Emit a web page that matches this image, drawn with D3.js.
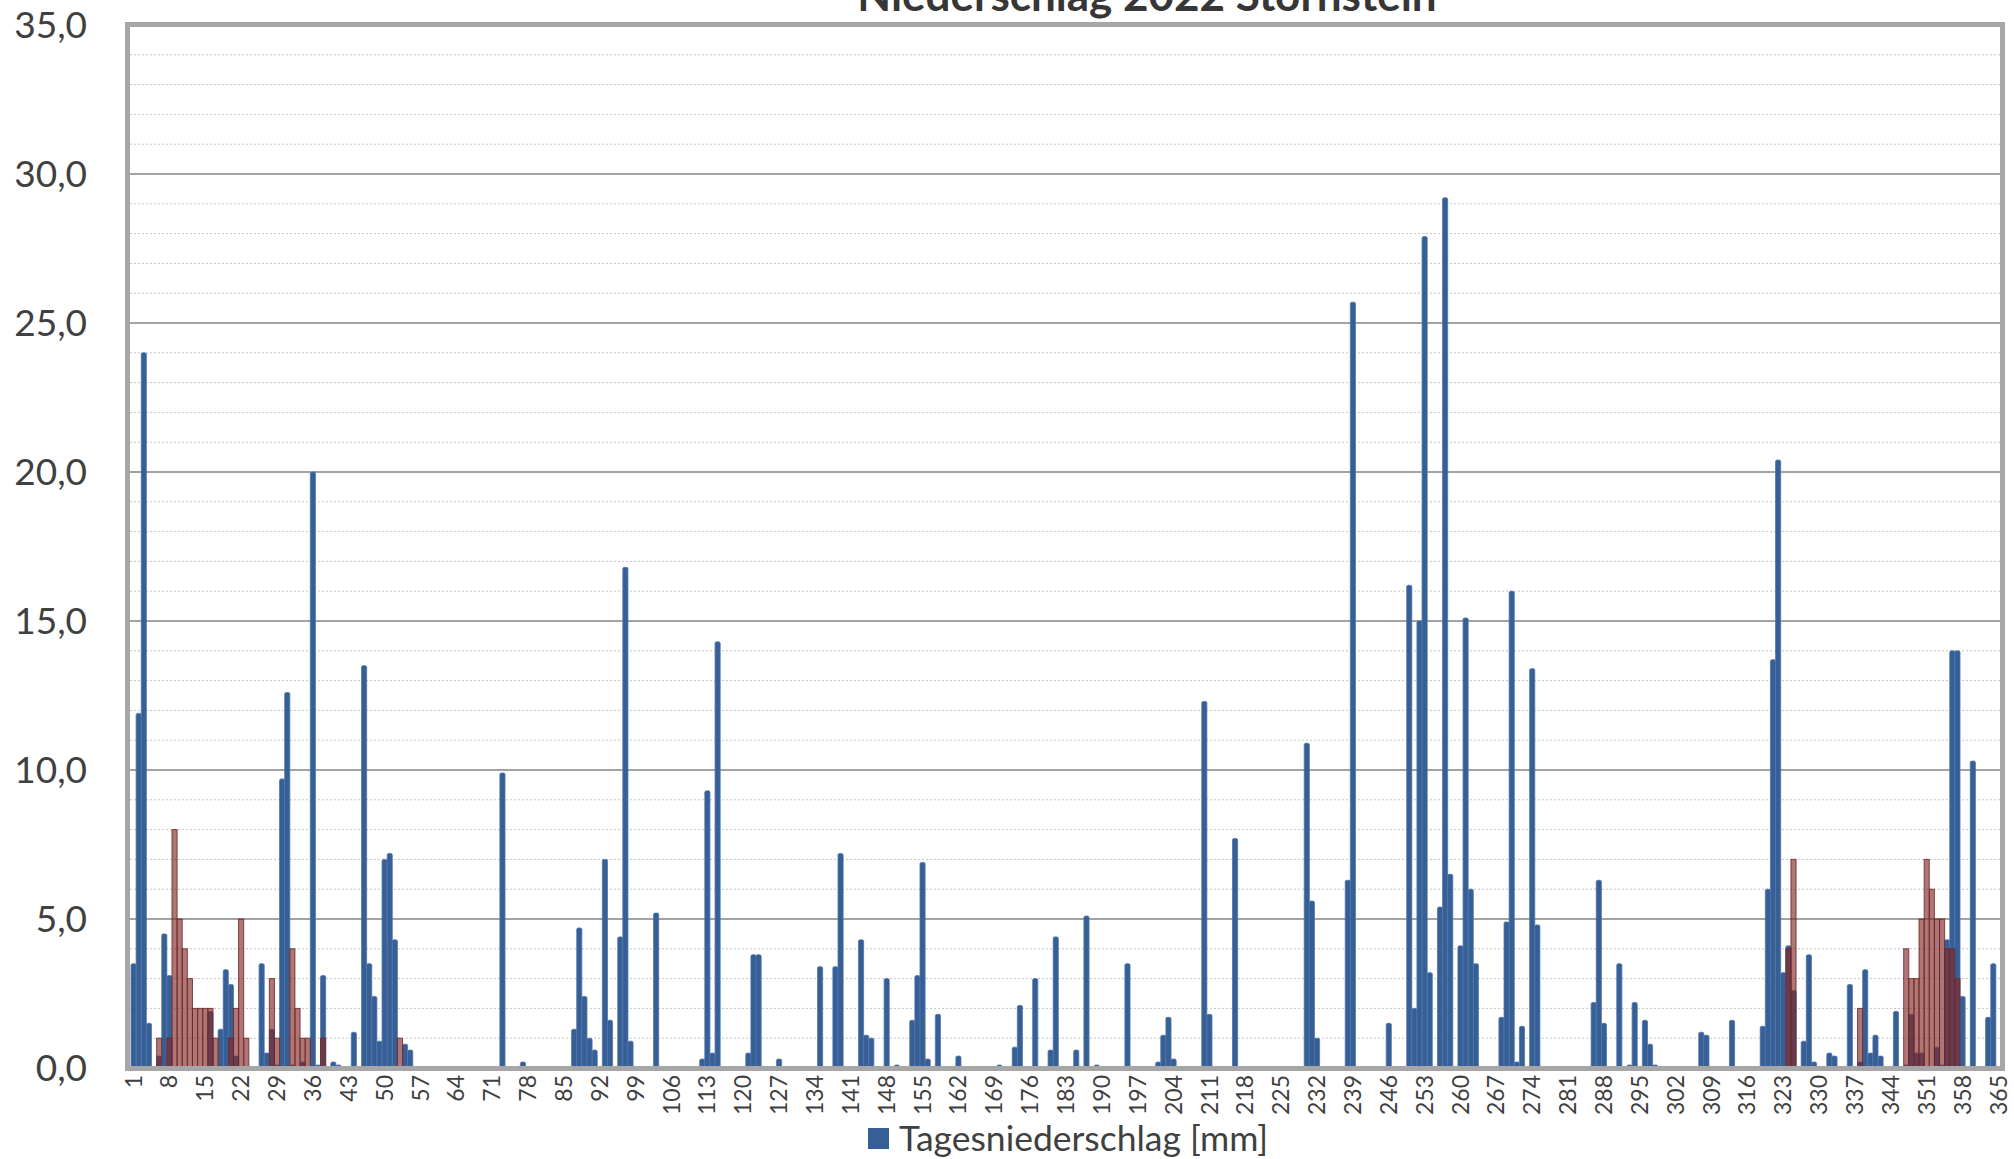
<!DOCTYPE html>
<html><head><meta charset="utf-8">
<script src="https://cdn.jsdelivr.net/npm/d3@7/dist/d3.min.js"></script>
<style>html,body{margin:0;padding:0;background:#fff;overflow:hidden}</style>
</head><body>
<script>
// ---- Data ----
const title = "Niederschlag 2022 Stornstein";
const legendLabel = "Tagesniederschlag [mm]";
const days = d3.range(1, 366);               // categories 1..365
const xTickDays = d3.range(1, 366, 7);       // 1, 8, 15, ... 365
const yTicks = [0, 5, 10, 15, 20, 25, 30, 35];

// daily precipitation (days with rain only)
const rainDay = [1,2,3,4,6,7,8,16,18,19,20,21,26,27,28,29,30,31,32,34,36,37,38,40,41,44,46,47,48,49,50,51,52,54,55,
  73,77,87,88,89,90,91,93,94,96,97,98,103,112,113,114,115,121,122,123,127,135,138,139,143,144,145,148,150,153,154,155,156,158,162,
  170,173,174,177,180,181,185,187,189,195,201,202,203,204,210,211,216,230,231,232,238,239,246,250,251,252,253,254,256,257,258,
  260,261,262,263,268,269,270,271,272,274,275,286,287,288,291,293,294,296,297,298,307,308,313,319,320,321,322,323,324,325,327,328,329,
  332,333,336,338,339,340,341,342,345,347,348,349,350,353,354,355,356,357,358,360,363,364];
const rainMM = [3.5,11.9,24.0,1.5,0.4,4.5,3.1,1.9,1.3,3.3,2.8,0.4,3.5,0.5,1.3,0.1,9.7,12.6,0.1,0.2,20.0,0.1,3.1,0.2,0.1,1.2,13.5,3.5,2.4,0.9,7.0,7.2,4.3,0.8,0.6,
  9.9,0.2,1.3,4.7,2.4,1.0,0.6,7.0,1.6,4.4,16.8,0.9,5.2,0.3,9.3,0.5,14.3,0.5,3.8,3.8,0.3,3.4,3.4,7.2,4.3,1.1,1.0,3.0,0.1,1.6,3.1,6.9,0.3,1.8,0.4,
  0.1,0.7,2.1,3.0,0.6,4.4,0.6,5.1,0.1,3.5,0.2,1.1,1.7,0.3,12.3,1.8,7.7,10.9,5.6,1.0,6.3,25.7,1.5,16.2,2.0,15.0,27.9,3.2,5.4,29.2,6.5,
  4.1,15.1,6.0,3.5,1.7,4.9,16.0,0.2,1.4,13.4,4.8,2.2,6.3,1.5,3.5,0.1,2.2,1.6,0.8,0.1,1.2,1.1,1.6,1.4,6.0,13.7,20.4,3.2,4.1,2.6,0.9,3.8,0.2,
  0.5,0.4,2.8,0.2,3.3,0.5,1.1,0.4,1.9,0.1,1.8,0.5,0.5,0.7,0.1,4.3,14.0,14.0,2.4,10.3,1.7,3.5];

// second (translucent brown) series
const snowDay = [6,8,9,10,11,12,13,14,15,16,17,20,21,22,23,28,29,32,33,34,35,38,53,324,325,338,347,348,349,350,351,352,353,354,355,356,357];
const snowVal = [1,1,8,5,4,3,2,2,2,2,1,1,2,5,1,3,1,4,2,1,1,1,1,4,7,2,4,3,3,5,7,6,5,5,4,4,3];

// ---- Layout ----
const W = 2014, H = 1159;
const plotL = 130, plotR = 2001, plotT = 25, plotB = 1068;

const svg = d3.select("body").append("svg").attr("width", W).attr("height", H)
  .style("font-family", "Lato, 'Open Sans', sans-serif");

const x = d3.scaleBand().domain(days).range([plotL + 1, plotR]).padding(0);
const y = d3.scaleLinear().domain([0, 35]).range([plotB, plotT]);

// minor grid (every 1)
const g = svg.append("g");
g.selectAll("line.minor").data(d3.range(1, 35).filter(v => v % 5 !== 0)).join("line")
  .attr("x1", plotL).attr("x2", plotR).attr("y1", d => y(d)).attr("y2", d => y(d))
  .attr("stroke", "#c4c4c4").attr("stroke-width", 1).attr("stroke-dasharray", "2,2");
// major grid
g.selectAll("line.major").data(yTicks.filter(v => v > 0 && v < 35)).join("line")
  .attr("x1", plotL).attr("x2", plotR).attr("y1", d => y(d)).attr("y2", d => y(d))
  .attr("stroke", "#a3a3a3").attr("stroke-width", 2);

// blue bars
const rain = rainDay.map((d, i) => ({day: d, v: rainMM[i]}));
svg.append("g").selectAll("rect").data(rain).join("rect")
  .attr("x", d => x(d.day)).attr("width", x.bandwidth())
  .attr("y", d => y(d.v)).attr("height", d => plotB - y(d.v))
  .attr("rx", 1.5)
  .attr("fill", "#365f96").attr("stroke", "#4f74aa").attr("stroke-width", 0.8);

// brown translucent bars
const snow = snowDay.map((d, i) => ({day: d, v: snowVal[i]}));
svg.append("g").selectAll("rect").data(snow).join("rect")
  .attr("x", d => x(d.day)).attr("width", x.bandwidth())
  .attr("y", d => y(d.v)).attr("height", d => plotB - y(d.v))
  .attr("fill", "rgba(130,40,40,0.64)").attr("stroke", "rgba(110,35,35,0.8)").attr("stroke-width", 1);

// plot frame
svg.append("rect").attr("x", plotL - 2.5).attr("y", plotT - 0.5).attr("width", plotR - plotL + 4).attr("height", plotB - plotT + 1)
  .attr("fill", "none").attr("stroke", "#a6a6a6").attr("stroke-width", 5);

// y axis labels
const fmt = v => d3.format(".1f")(v).replace(".", ",");
svg.append("g").selectAll("text").data(yTicks).join("text")
  .attr("x", 87).attr("y", d => y(d)).attr("dy", "0.36em")
  .attr("text-anchor", "end").attr("font-size", 37).attr("fill", "#404040")
  .text(fmt);

// x axis labels
svg.append("g").selectAll("text").data(xTickDays).join("text")
  .attr("transform", d => `translate(${x(d) + x.bandwidth() / 2},1075) rotate(-90)`)
  .attr("dy", "0.35em").attr("text-anchor", "end")
  .attr("font-size", 23).attr("fill", "#404040").text(d => d);

// title (partly above the top edge, as in the reference)
svg.append("text").attr("x", 1147).attr("y", 11).attr("text-anchor", "middle")
  .attr("font-size", 44).attr("font-weight", "bold").attr("fill", "#363636").text(title);

// legend
svg.append("rect").attr("x", 868).attr("y", 1128).attr("width", 21).attr("height", 21).attr("fill", "#365f96");
svg.append("text").attr("x", 899).attr("y", 1151).attr("font-size", 35.5).attr("fill", "#404040").text(legendLabel);
</script>
</body></html>
